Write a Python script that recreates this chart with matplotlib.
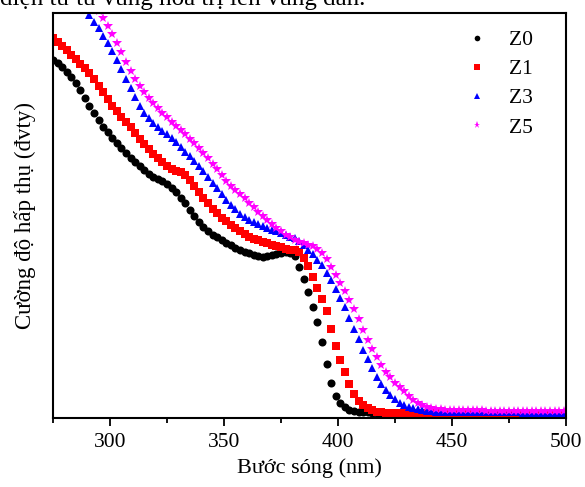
import numpy as np
import matplotlib
matplotlib.use("Agg")
import matplotlib.pyplot as plt
from matplotlib.ticker import MultipleLocator

plt.rcParams['font.family'] = ['Liberation Serif', 'DejaVu Serif']

# wavelength grid (nm), one reading every 2 nm
wavelength = np.arange(275, 500, 2)

# absorbance (arbitrary units)
z0 = [0.884, 0.876, 0.866, 0.855, 0.843, 0.827, 0.809, 0.790, 0.770, 0.752,
      0.735, 0.718, 0.705, 0.692, 0.679, 0.667, 0.654, 0.643, 0.632, 0.622,
      0.612, 0.602, 0.595, 0.589, 0.584, 0.578, 0.569, 0.557, 0.544, 0.530,
      0.514, 0.498, 0.484, 0.472, 0.462, 0.453, 0.446, 0.439, 0.432, 0.426,
      0.420, 0.415, 0.411, 0.407, 0.403, 0.400, 0.398, 0.399, 0.402, 0.405,
      0.407, 0.409, 0.408, 0.399, 0.374, 0.343, 0.310, 0.275, 0.237, 0.188,
      0.134, 0.086, 0.054, 0.036, 0.026, 0.020, 0.017, 0.016, 0.015, 0.014,
      0.013, 0.013, 0.013, 0.013, 0.013, 0.013, 0.013, 0.013, 0.013, 0.013,
      0.013, 0.013, 0.013, 0.013, 0.013, 0.013, 0.013, 0.013, 0.013, 0.013,
      0.013, 0.013, 0.013, 0.013, 0.013, 0.013, 0.013, 0.013, 0.013, 0.013,
      0.013, 0.013, 0.013, 0.013, 0.013, 0.013, 0.013, 0.013, 0.013, 0.013,
      0.013, 0.013, 0.013]

z1 = [0.938, 0.929, 0.918, 0.908, 0.897, 0.886, 0.875, 0.864, 0.851, 0.836,
      0.820, 0.805, 0.788, 0.771, 0.757, 0.743, 0.731, 0.718, 0.704, 0.690,
      0.676, 0.664, 0.653, 0.642, 0.631, 0.621, 0.615, 0.611, 0.607, 0.599,
      0.587, 0.573, 0.559, 0.544, 0.530, 0.517, 0.505, 0.495, 0.486, 0.477,
      0.469, 0.462, 0.455, 0.448, 0.443, 0.439, 0.435, 0.432, 0.428, 0.425,
      0.421, 0.418, 0.416, 0.415, 0.410, 0.395, 0.375, 0.349, 0.322, 0.295,
      0.263, 0.220, 0.178, 0.142, 0.113, 0.085, 0.060, 0.043, 0.032, 0.025,
      0.019, 0.016, 0.014, 0.013, 0.012, 0.012, 0.012, 0.012, 0.012, 0.012,
      0.012, 0.012, 0.012, 0.012, 0.012, 0.012, 0.012, 0.012, 0.012, 0.012,
      0.012, 0.012, 0.012, 0.012, 0.012, 0.012, 0.012, 0.012, 0.012, 0.012,
      0.012, 0.012, 0.012, 0.012, 0.012, 0.012, 0.012, 0.012, 0.012, 0.012,
      0.012, 0.012, 0.012]

z3 = [1.140, 1.122, 1.104, 1.086, 1.068, 1.050, 1.031, 1.012, 0.995, 0.978,
      0.962, 0.944, 0.925, 0.905, 0.883, 0.861, 0.838, 0.815, 0.792, 0.770,
      0.754, 0.740, 0.728, 0.718, 0.709, 0.700, 0.691, 0.681, 0.670, 0.658,
      0.647, 0.635, 0.623, 0.609, 0.594, 0.580, 0.567, 0.553, 0.539, 0.526,
      0.515, 0.504, 0.496, 0.490, 0.484, 0.478, 0.473, 0.469, 0.465, 0.461,
      0.456, 0.451, 0.447, 0.444, 0.436, 0.427, 0.416, 0.404, 0.391, 0.377,
      0.359, 0.340, 0.319, 0.297, 0.274, 0.247, 0.220, 0.194, 0.168, 0.145,
      0.123, 0.102, 0.083, 0.068, 0.057, 0.047, 0.038, 0.031, 0.027, 0.024,
      0.021, 0.019, 0.018, 0.017, 0.016, 0.016, 0.015, 0.015, 0.015, 0.015,
      0.015, 0.015, 0.015, 0.015, 0.014, 0.014, 0.014, 0.014, 0.014, 0.014,
      0.014, 0.014, 0.014, 0.013, 0.013, 0.013, 0.013, 0.013, 0.013, 0.013,
      0.013, 0.013, 0.013]

z5 = [1.220, 1.200, 1.180, 1.155, 1.135, 1.110, 1.090, 1.070, 1.045, 1.025,
      1.005, 0.987, 0.967, 0.947, 0.925, 0.903, 0.880, 0.857, 0.837, 0.819,
      0.804, 0.790, 0.777, 0.765, 0.753, 0.742, 0.731, 0.721, 0.710, 0.700,
      0.689, 0.678, 0.667, 0.655, 0.642, 0.628, 0.614, 0.600, 0.586, 0.574,
      0.563, 0.552, 0.542, 0.532, 0.521, 0.509, 0.498, 0.488, 0.478, 0.469,
      0.461, 0.453, 0.446, 0.440, 0.435, 0.431, 0.428, 0.424, 0.417, 0.408,
      0.393, 0.373, 0.352, 0.333, 0.314, 0.292, 0.269, 0.244, 0.217, 0.192,
      0.170, 0.150, 0.131, 0.114, 0.100, 0.087, 0.076, 0.066, 0.054, 0.044,
      0.037, 0.031, 0.027, 0.025, 0.023, 0.021, 0.020, 0.019, 0.019, 0.019,
      0.019, 0.019, 0.019, 0.019, 0.019, 0.018, 0.018, 0.018, 0.018, 0.018,
      0.018, 0.018, 0.018, 0.018, 0.018, 0.017, 0.017, 0.017, 0.017, 0.017,
      0.017, 0.017, 0.017]

labels = ["Z0", "Z1", "Z3", "Z5"]
colors = ["black", "#ff0000", "#0000ff", "#ff00ff"]
markers = ["o", "s", "^", "*"]
sizes = [5.8, 5.2, 6.2, 7.4]

fig = plt.figure(figsize=(5.85, 4.87), dpi=100)
ax = fig.add_axes([0.0906, 0.1417, 0.8769, 0.8316])

for vals, lab, c, m, s in zip([z0, z1, z3, z5], labels, colors, markers, sizes):
    ax.plot(wavelength, vals, linestyle='none', marker=m, markersize=s,
            color=c, markeredgewidth=0, label=lab)

ax.set_xlim(275, 500)
ax.set_ylim(0, 1.0)
ax.xaxis.set_major_locator(MultipleLocator(50))
ax.xaxis.set_minor_locator(MultipleLocator(25))
ax.tick_params(axis='x', which='major', direction='out', length=6, width=1.3,
               labelsize=15.5, pad=5)
ax.tick_params(axis='x', which='minor', direction='out', length=3.5, width=1.3)
ax.set_yticks([])
for sp in ax.spines.values():
    sp.set_linewidth(1.5)

ax.set_xlabel("Bước sóng (nm)", fontsize=16, labelpad=4)
ax.set_ylabel("Cường độ hấp thụ (đvty)", fontsize=16.5, labelpad=12)

leg = ax.legend(loc='upper right', frameon=False, fontsize=15.5,
                handlelength=1.0, handletextpad=1.0, labelspacing=0.42,
                borderaxespad=0.3, bbox_to_anchor=(0.965, 0.995),
                markerscale=0.7)

# tail of the caption line above the figure, cut off in the source
fig.text(0.0, 1 - 5 / 487, "điện tử từ vùng hóa trị lên vùng dẫn.",
         fontsize=18, va='baseline', ha='left')

fig.savefig("out.png", dpi=100)
